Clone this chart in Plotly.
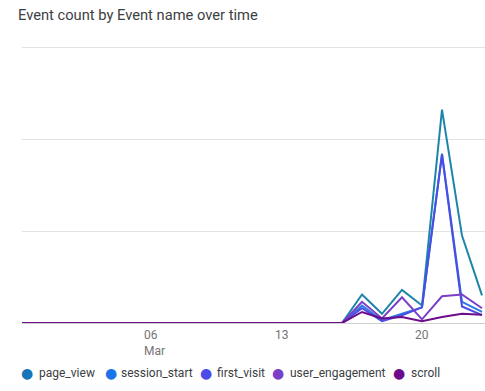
import plotly.graph_objects as go

# ---- data ----
dates = ["2024-02-29", "2024-03-01", "2024-03-02", "2024-03-03", "2024-03-04", "2024-03-05",
         "2024-03-06", "2024-03-07", "2024-03-08", "2024-03-09", "2024-03-10", "2024-03-11",
         "2024-03-12", "2024-03-13", "2024-03-14", "2024-03-15", "2024-03-16", "2024-03-17",
         "2024-03-18", "2024-03-19", "2024-03-20", "2024-03-21", "2024-03-22", "2024-03-23"]

page_view = [0, 0, 0, 0, 0, 0, 0, 0, 0, 0, 0, 0, 0, 0, 0, 0, 0,
             3.1, 1.0, 3.6, 1.9, 23.2, 9.5, 3.0]
session_start = [0, 0, 0, 0, 0, 0, 0, 0, 0, 0, 0, 0, 0, 0, 0, 0, 0,
                 1.9, 0.3, 1.0, 1.7, 18.4, 2.3, 1.2]
first_visit = [0, 0, 0, 0, 0, 0, 0, 0, 0, 0, 0, 0, 0, 0, 0, 0, 0,
               1.6, 0.2, 0.85, 1.7, 18.3, 1.8, 0.85]
user_engagement = [0, 0, 0, 0, 0, 0, 0, 0, 0, 0, 0, 0, 0, 0, 0, 0, 0,
                   2.3, 0.5, 2.8, 0.4, 2.9, 3.1, 1.6]
scroll = [0, 0, 0, 0, 0, 0, 0, 0, 0, 0, 0, 0, 0, 0, 0, 0, 0,
          1.2, 0.5, 0.65, 0.2, 0.65, 1.0, 0.9]

series_names = ["page_view", "session_start", "first_visit", "user_engagement", "scroll"]
series_values = [page_view, session_start, first_visit, user_engagement, scroll]

tick_dates = ["2024-03-06", "2024-03-13", "2024-03-20"]
tick_labels = ["06<br>Mar", "13", "20"]

title_text = "Event count by Event name over time"

# ---- styles ----
line_colors = ["#1d86a8", "#2a7be0", "#4b4be6", "#7a3fc8", "#6c0c8a"]
dot_colors = ["#1577b5", "#1a73e8", "#4b4be8", "#7a3fc8", "#6c0c8a"]
legend_dot_px = [27, 111, 206, 278, 399]
legend_text_px = [37, 119, 215, 288, 409]

W, H = 485, 391
ML, MR, MT, MB = 22, 0, 45, 68
plot_w = W - ML - MR
plot_h = H - MT - MB
y_top = 30 * plot_h / (plot_h - 2)

fig = go.Figure()
for i in range(len(series_names)):
    fig.add_trace(go.Scatter(
        x=dates, y=series_values[i], mode="lines", name=series_names[i],
        line=dict(color=line_colors[i], width=2), showlegend=False,
        hoverinfo="skip"))

annotations = []
for k, (d, t) in enumerate(zip(tick_dates, tick_labels)):
    annotations.append(dict(
        x=d, xref="x", y=0, yref="paper", yanchor="top",
        xanchor="left" if k == 0 else "center", align="left",
        yshift=-3, text=t, showarrow=False,
        font=dict(family="Roboto", size=12, color="#757575")))

leg_y = -(373 - (H - MB)) / plot_h
for i, name in enumerate(series_names):
    annotations.append(dict(
        x=(legend_dot_px[i] - ML) / plot_w, xref="paper", y=leg_y, yref="paper",
        xanchor="center", yanchor="middle", text="●", showarrow=False,
        font=dict(family="DejaVu Sans", size=14, color=dot_colors[i])))
    annotations.append(dict(
        x=(legend_text_px[i] - ML) / plot_w, xref="paper", y=leg_y, yref="paper",
        xanchor="left", yanchor="middle", text=name, showarrow=False,
        font=dict(family="Roboto", size=12, color="#3c4043")))

fig.update_layout(
    width=W, height=H,
    margin=dict(l=ML, r=MR, t=MT, b=MB),
    paper_bgcolor="white", plot_bgcolor="white",
    title=dict(text=title_text, x=18 / W, xref="container", xanchor="left",
               y=1 - 15 / H, yref="container", yanchor="middle",
               font=dict(family="Roboto", size=14.7, color="#3c4043")),
    xaxis=dict(type="date", range=["2024-02-29", "2024-03-23 03:36"],
               showgrid=False, showticklabels=False, ticks="", zeroline=False,
               showline=False, fixedrange=True),
    yaxis=dict(range=[0, y_top], dtick=10, showgrid=True, gridcolor="#e3e3e3",
               gridwidth=1, showticklabels=False, ticks="", zeroline=True,
               zerolinecolor="#d0d0d0", zerolinewidth=1, showline=False,
               fixedrange=True),
    annotations=annotations,
    showlegend=False,
)

fig.write_html("out.html", config={"displayModeBar": False},
               post_script="document.body.style.margin='0';")
